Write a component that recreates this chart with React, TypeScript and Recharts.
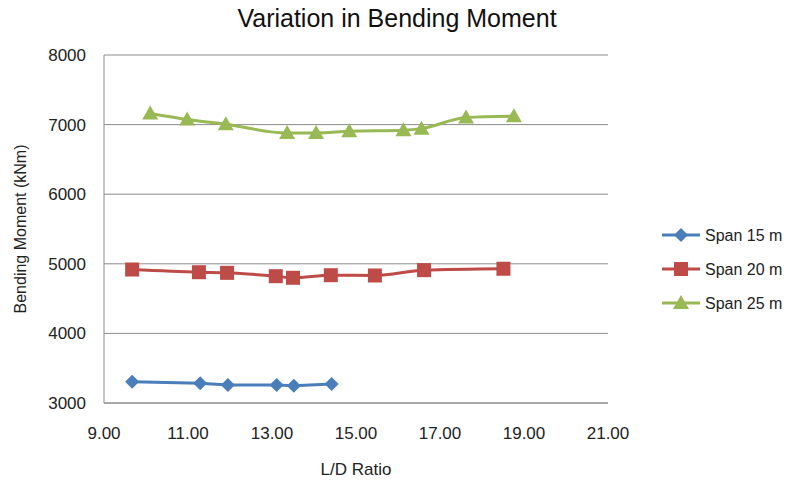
import React from "react";
import { LineChart, Line, XAxis, YAxis, CartesianGrid } from "recharts";

const xTicks = [9, 11, 13, 15, 17, 19, 21];
const yTicks = [3000, 4000, 5000, 6000, 7000, 8000];

const span15X = [9.67, 11.29, 11.95, 13.11, 13.52, 14.42];
const span15Y = [3306, 3283, 3259, 3259, 3249, 3273];

const span20X = [9.67, 11.26, 11.93, 13.09, 13.5, 14.4, 15.45, 16.62, 18.51];
const span20Y = [4918, 4879, 4870, 4822, 4799, 4836, 4832, 4909, 4929];

const span25X = [10.1, 10.98, 11.9, 13.36, 14.05, 14.84, 16.13, 16.56, 17.62, 18.76];
const span25Y = [7158, 7072, 7004, 6879, 6879, 6904, 6918, 6942, 7101, 7120];

const seriesNames = ["Span 15 m", "Span 20 m", "Span 25 m"];
const seriesColors = ["#4a7ebb", "#be4b48", "#98b954"];

const toRows = (xs: number[], ys: number[]) => xs.map((x, i) => ({ x, y: ys[i] }));

const FONT = "'Liberation Sans', Arial, sans-serif";

const marker = (shape: string, color: string, cx: number, cy: number, key?: any) => {
  if (shape === "diamond") {
    return <path key={key} d={`M${cx},${cy - 7} L${cx + 7},${cy} L${cx},${cy + 7} L${cx - 7},${cy} Z`} fill={color} />;
  }
  if (shape === "square") {
    return <rect key={key} x={cx - 7} y={cy - 7} width={14} height={14} fill={color} />;
  }
  return <path key={key} d={`M${cx},${cy - 8} L${cx + 8},${cy + 6} L${cx - 8},${cy + 6} Z`} fill={color} />;
};

const shapes = ["diamond", "square", "triangle"];

const makeDot = (idx: number) => (props: any) =>
  marker(shapes[idx], seriesColors[idx], props.cx, props.cy, `${idx}-${props.index}`);

// legend drawn by hand so the markers sit on the line like Excel's
const LegendBox = () => (
  <svg width={130} height={90} style={{ position: "absolute", left: 660, top: 222 }}>
    {seriesNames.map((name, i) => {
      const y = 13 + i * 34;
      return (
        <g key={name}>
          <line x1={2} x2={40} y1={y} y2={y} stroke={seriesColors[i]} strokeWidth={3} />
          {marker(shapes[i], seriesColors[i], 21, y)}
          <text x={45} y={y + 6} fontSize={16} fill="#222" fontFamily={FONT}>{name}</text>
        </g>
      );
    })}
  </svg>
);

export default function App() {
  return (
    <div style={{ position: "absolute", left: 0, top: 0, width: 788, height: 482, background: "#fff" }}>
      <div style={{ position: "absolute", left: 3, top: 4, width: 788, textAlign: "center", fontFamily: FONT, fontSize: 25, color: "#111" }}>
        Variation in Bending Moment
      </div>
      <LineChart width={788} height={482} margin={{ top: 55, right: 180, bottom: 0, left: 0 }}>
        <CartesianGrid vertical={false} stroke="#8c8c8c" />
        <XAxis
          type="number"
          dataKey="x"
          domain={[9, 21]}
          ticks={xTicks}
          allowDataOverflow
          height={79}
          tickSize={0}
          tickMargin={24}
          stroke="#8c8c8c"
          tick={{ fill: "#222", fontSize: 17, fontFamily: FONT }}
          tickFormatter={(v: number) => v.toFixed(2)}
          label={{ value: "L/D Ratio", position: "insideBottom", offset: 7, fill: "#222", fontSize: 17, fontFamily: FONT }}
        />
        <YAxis
          type="number"
          domain={[3000, 8000]}
          ticks={yTicks}
          width={104}
          tickSize={0}
          tickMargin={18}
          stroke="#8c8c8c"
          tick={{ fill: "#222", fontSize: 17, fontFamily: FONT }}
          label={{ value: "Bending Moment (kNm)", angle: -90, position: "insideLeft", offset: 20, style: { textAnchor: "middle" }, fill: "#222", fontSize: 16, fontFamily: FONT }}
        />
        <Line data={toRows(span15X, span15Y)} dataKey="y" name={seriesNames[0]} type="linear" stroke={seriesColors[0]} strokeWidth={3} dot={makeDot(0)} activeDot={false} isAnimationActive={false} />
        <Line data={toRows(span20X, span20Y)} dataKey="y" name={seriesNames[1]} type="monotone" stroke={seriesColors[1]} strokeWidth={3} dot={makeDot(1)} activeDot={false} isAnimationActive={false} />
        <Line data={toRows(span25X, span25Y)} dataKey="y" name={seriesNames[2]} type="monotone" stroke={seriesColors[2]} strokeWidth={3} dot={makeDot(2)} activeDot={false} isAnimationActive={false} />
      </LineChart>
      <LegendBox />
    </div>
  );
}
